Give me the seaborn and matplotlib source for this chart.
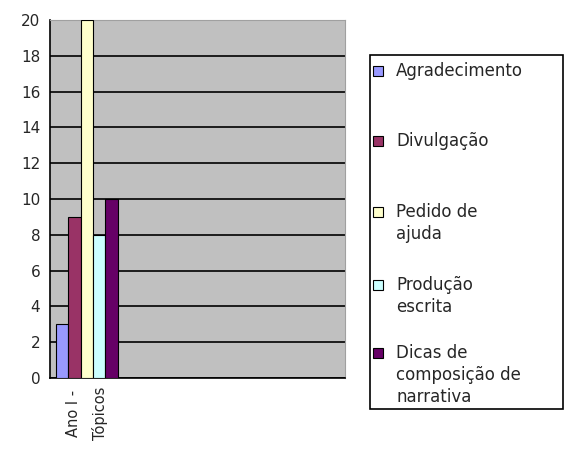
import matplotlib
matplotlib.use("Agg")
import matplotlib.pyplot as plt
import seaborn as sns
import pandas as pd
from matplotlib.patches import Rectangle

categories = ["Ano I -\nTópicos"]
series = ["Agradecimento", "Divulgação", "Pedido de\najuda", "Produção\nescrita",
          "Dicas de\ncomposição de\nnarrativa"]
values = [3, 9, 20, 8, 10]
colors = ["#9999FF", "#993366", "#FFFFCC", "#CCFFFF", "#660066"]
yticks = [0, 2, 4, 6, 8, 10, 12, 14, 16, 18, 20]

df = pd.DataFrame({"cat": categories * len(series), "serie": series, "val": values})

sns.set_style("white")
plt.rcParams['font.family'] = ['DejaVu Sans']

W, H = 565, 454
fig = plt.figure(figsize=(W / 100, H / 100), dpi=100)
ax = fig.add_axes([50/W, (H-378)/H, (345-50)/W, (378-20)/H])
ax.set_facecolor("#C0C0C0")

sns.barplot(data=df, x="cat", y="val", hue="serie", palette=colors, ax=ax,
            width=0.84, saturation=1, edgecolor="black", linewidth=0.8,
            legend=False, zorder=3)

ax.set_xlim(-0.5, 3.5)
ax.set_ylim(0, 20)
ax.set_yticks(yticks)
ax.set_yticklabels([str(t) for t in yticks], fontsize=11)
ax.set_xticks([0])
ax.set_xticklabels(categories, rotation=90, fontsize=10.5, linespacing=1.9)
ax.set_xticks([-0.5, 0.5, 1.5, 2.5, 3.5], minor=True)
ax.tick_params(axis="x", which="major", length=0, pad=6)
ax.tick_params(axis="x", which="minor", length=4, direction="out", width=1)
ax.tick_params(axis="y", length=4, direction="out", width=1, pad=3)
ax.yaxis.grid(True, color="black", linewidth=1.2, zorder=1)
ax.set_axisbelow(True)
ax.set_xlabel("")
ax.set_ylabel("")
for s in ["top", "right"]:
    ax.spines[s].set_color("#A0A0A0")
for s in ["left", "bottom"]:
    ax.spines[s].set_color("black")
    ax.spines[s].set_linewidth(1.2)

# legend drawn manually (handles aligned with first line of each label)
fig.patches.append(Rectangle((370/W, 1 - 409/H), (563-370)/W, (409-55)/H,
                             transform=fig.transFigure, facecolor="white",
                             edgecolor="black", linewidth=1.2))
label_tops = [62, 132, 203, 276, 344]
for lab, col, ytop in zip(series, colors, label_tops):
    fig.patches.append(Rectangle((373/W, 1 - (ytop + 14)/H), 10/W, 10/H,
                                 transform=fig.transFigure, facecolor=col,
                                 edgecolor="black", linewidth=0.8))
    fig.text(396/W, 1 - ytop/H, lab, fontsize=12, va="top", ha="left",
             linespacing=1.3)

fig.savefig("out.png", dpi=100)
